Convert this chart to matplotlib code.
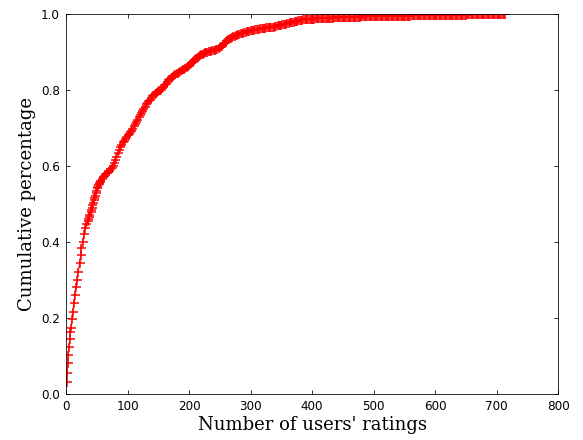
"""CDF of the number of ratings per user."""

import matplotlib
matplotlib.use("Agg")
import matplotlib.pyplot as plt

# number of ratings per user (x) and cumulative fraction of users (y),
# read off the figure in three stretches
x_low = [
    1, 2, 3, 4, 5, 6, 7, 8, 10, 11,
    13, 14, 16, 18, 20, 22, 24, 25, 27, 29,
    31, 33, 35, 36, 37, 38, 40, 41, 42, 43,
    44, 45, 46, 47, 48, 49, 50, 51, 52, 53,
    54, 55, 56, 58, 60, 62, 64, 66, 68, 70,
    72, 74, 76, 78, 80, 82, 84, 86, 88, 90,
    92, 94, 96, 98, 100, 102, 104, 106, 108, 110,
    112, 114, 116, 118, 120, 122, 124, 126, 128, 130,
    132, 134, 136, 138,
]
y_low = [
    0.031, 0.056, 0.082, 0.103, 0.124, 0.144, 0.164, 0.175, 0.197, 0.217,
    0.239, 0.260, 0.282, 0.300, 0.322, 0.344, 0.366, 0.383, 0.400, 0.420,
    0.436, 0.448, 0.456, 0.461, 0.466, 0.471, 0.480, 0.485, 0.490, 0.497,
    0.503, 0.510, 0.516, 0.522, 0.528, 0.535, 0.541, 0.545, 0.549, 0.552,
    0.555, 0.558, 0.560, 0.565, 0.570, 0.575, 0.578, 0.581, 0.584, 0.587,
    0.591, 0.595, 0.600, 0.607, 0.615, 0.625, 0.635, 0.643, 0.650, 0.656,
    0.662, 0.667, 0.672, 0.677, 0.681, 0.685, 0.689, 0.693, 0.698, 0.704,
    0.710, 0.716, 0.722, 0.728, 0.734, 0.740, 0.746, 0.751, 0.756, 0.762,
    0.767, 0.771, 0.775, 0.779,
]
x_mid = [
    140, 142, 144, 146, 148, 150, 152, 154, 156, 158,
    160, 162, 164, 166, 168, 170, 172, 174, 176, 178,
    180, 182, 184, 186, 188, 190, 192, 194, 196, 198,
    200, 202, 204, 206, 208, 210, 212, 214, 216, 218,
    220, 222, 224, 226, 228, 230, 232, 234, 236, 238,
    240, 242, 244, 246, 248, 250, 252, 254, 256, 258,
    260, 262, 264, 266, 268, 270, 272, 274, 276, 278,
    280, 282, 284, 286, 288, 290, 292, 294, 296, 298,
    300, 302, 304, 306, 308, 310, 312, 314, 316, 318,
    320, 322, 324, 326, 328, 330, 332, 334, 336, 338,
    340, 342, 344, 346, 348, 350, 352, 354, 356, 358,
    360, 362, 364, 366, 368, 370, 372, 374, 376, 378,
    380, 382, 384, 386, 388, 390, 392,
]
y_mid = [
    0.783, 0.787, 0.790, 0.792, 0.795, 0.797, 0.799, 0.801, 0.804, 0.808,
    0.812, 0.817, 0.822, 0.826, 0.829, 0.832, 0.834, 0.837, 0.840, 0.842,
    0.844, 0.846, 0.848, 0.850, 0.852, 0.854, 0.856, 0.858, 0.861, 0.864,
    0.866, 0.869, 0.872, 0.875, 0.878, 0.881, 0.883, 0.886, 0.889, 0.891,
    0.894, 0.896, 0.898, 0.899, 0.900, 0.901, 0.902, 0.903, 0.903, 0.904,
    0.905, 0.906, 0.908, 0.909, 0.910, 0.913, 0.915, 0.917, 0.920, 0.924,
    0.928, 0.931, 0.934, 0.936, 0.938, 0.940, 0.941, 0.943, 0.944, 0.945,
    0.947, 0.948, 0.949, 0.950, 0.951, 0.952, 0.953, 0.954, 0.955, 0.956,
    0.957, 0.957, 0.958, 0.959, 0.960, 0.960, 0.961, 0.961, 0.962, 0.962,
    0.963, 0.964, 0.964, 0.965, 0.965, 0.966, 0.966, 0.967, 0.967, 0.967,
    0.968, 0.969, 0.970, 0.970, 0.971, 0.972, 0.973, 0.974, 0.974, 0.975,
    0.976, 0.977, 0.978, 0.978, 0.979, 0.980, 0.981, 0.982, 0.982, 0.983,
    0.984, 0.985, 0.985, 0.986, 0.986, 0.987, 0.987,
]
x_tail = [
    394, 396, 398, 400, 402, 404, 406, 408, 410, 412,
    414, 416, 418, 420, 422, 424, 426, 428, 430, 432,
    434, 436, 438, 440, 442, 444, 446, 448, 450, 452,
    454, 456, 458, 460, 462, 464, 466, 468, 470, 472,
    474, 476, 478, 480, 482, 484, 486, 488, 490, 492,
    494, 496, 498, 500, 502, 504, 506, 508, 510, 512,
    514, 516, 518, 520, 522, 524, 526, 528, 530, 532,
    534, 536, 538, 540, 542, 544, 546, 548, 550, 552,
    554, 556, 558, 560, 562, 564, 566, 568, 570, 572,
    574, 576, 578, 580, 582, 584, 586, 588, 590, 592,
    594, 596, 598, 600, 602, 604, 606, 608, 610, 612,
    614, 616, 618, 620, 622, 624, 626, 628, 630, 632,
    634, 636, 638, 640, 642, 644, 646, 648, 650, 652,
    654, 656, 658, 660, 662, 664, 666, 668, 670, 672,
    674, 676, 678, 680, 682, 684, 686, 688, 690, 692,
    694, 696, 698, 700, 702, 704, 706, 708, 710, 712,
    714,
]
y_tail = [
    0.988, 0.988, 0.988, 0.988, 0.988, 0.988, 0.989, 0.989, 0.989, 0.989,
    0.989, 0.989, 0.989, 0.989, 0.990, 0.990, 0.990, 0.990, 0.990, 0.990,
    0.990, 0.991, 0.991, 0.991, 0.991, 0.991, 0.991, 0.991, 0.992, 0.992,
    0.992, 0.992, 0.992, 0.992, 0.992, 0.993, 0.993, 0.993, 0.993, 0.993,
    0.993, 0.993, 0.993, 0.994, 0.994, 0.994, 0.994, 0.994, 0.994, 0.994,
    0.994, 0.995, 0.995, 0.995, 0.995, 0.995, 0.995, 0.995, 0.995, 0.995,
    0.995, 0.995, 0.995, 0.995, 0.996, 0.996, 0.996, 0.996, 0.996, 0.996,
    0.996, 0.996, 0.996, 0.996, 0.996, 0.996, 0.996, 0.996, 0.996, 0.996,
    0.996, 0.996, 0.996, 0.996, 0.997, 0.997, 0.997, 0.997, 0.997, 0.997,
    0.997, 0.997, 0.997, 0.997, 0.997, 0.997, 0.997, 0.997, 0.997, 0.997,
    0.997, 0.997, 0.997, 0.997, 0.997, 0.997, 0.998, 0.998, 0.998, 0.998,
    0.998, 0.998, 0.998, 0.998, 0.998, 0.998, 0.998, 0.998, 0.998, 0.998,
    0.998, 0.998, 0.998, 0.998, 0.998, 0.998, 0.998, 0.998, 0.998, 0.999,
    0.999, 0.999, 0.999, 0.999, 0.999, 0.999, 0.999, 0.999, 0.999, 0.999,
    0.999, 0.999, 0.999, 0.999, 0.999, 0.999, 0.999, 0.999, 0.999, 0.999,
    0.999, 0.999, 0.999, 0.999, 1.000, 1.000, 1.000, 1.000, 1.000, 1.000,
    1.000,
]
assert len(x_low) == len(y_low)
assert len(x_mid) == len(y_mid)
assert len(x_tail) == len(y_tail)

n_ratings = x_low + x_mid + x_tail
cum_frac = y_low + y_mid + y_tail

plt.rcParams.update({"font.size": 12, "font.family": "DejaVu Sans",
                     "xtick.direction": "in", "ytick.direction": "in",
                     "xtick.top": True, "ytick.right": True,
                     "xtick.major.size": 4, "ytick.major.size": 4,
                     "xtick.major.pad": 6, "ytick.major.pad": 6})

fig = plt.figure(figsize=(583 / 72, 440 / 72), dpi=72)
ax = fig.add_axes([66 / 583, 1 - 394 / 440, 492 / 583, 380 / 440])

ax.plot(n_ratings, cum_frac, "-", color="red", lw=1, marker="+",
        markersize=9, markeredgewidth=1.5)
ax.set_xlim(0, 800)
ax.set_ylim(0, 1.0)
ax.set_xticks(range(0, 801, 100))
ax.set_yticks([0.0, 0.2, 0.4, 0.6, 0.8, 1.0])

lab = dict(family="DejaVu Serif", fontsize=18)
ax.set_xlabel("Number of users' ratings", labelpad=3, **lab)
ax.set_ylabel("Cumulative percentage", labelpad=5, **lab)

fig.savefig("out.png", dpi=72, facecolor="white")
